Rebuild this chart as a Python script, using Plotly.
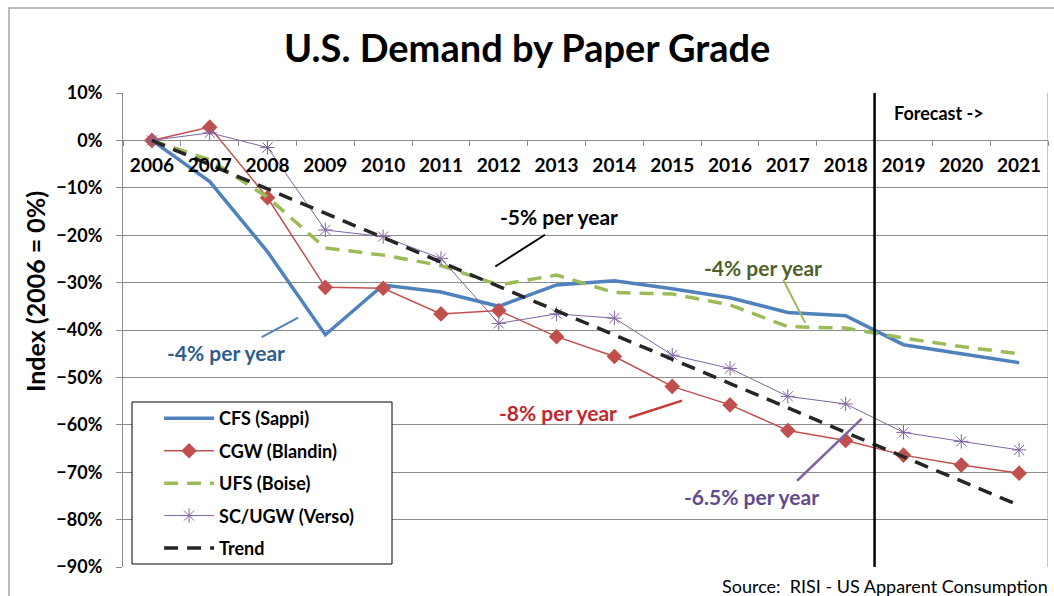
import plotly.graph_objects as go

years = [str(y) for y in range(2006, 2022)]
cfs = [0, -8.7, -23.5, -41.0, -30.5, -32.0, -35.0, -30.5, -29.6, -31.3, -33.2, -36.3, -37.0, -43.1, -45.0, -46.9]
cgw = [0, 2.8, -12.1, -31.0, -31.2, -36.6, -35.9, -41.4, -45.6, -51.9, -55.8, -61.2, -63.3, -66.4, -68.5, -70.2]
ufs = [0, -4.1, -12.0, -22.7, -24.2, -26.4, -30.5, -28.4, -32.1, -32.4, -34.7, -39.3, -39.6, -41.7, -43.5, -45.0]
scugw = [0, 1.6, -1.5, -18.9, -20.3, -24.9, -38.6, -36.6, -37.5, -45.3, -48.1, -54.0, -55.6, -61.6, -63.5, -65.3]
trend = [0, -5.1, -10.3, -15.4, -20.5, -25.7, -30.8, -35.9, -41.0, -46.2, -51.3, -56.4, -61.6, -66.7, -71.8, -77.0]

FONT = "Lato"
fig = go.Figure()

fig.add_trace(go.Scatter(x=years, y=cfs, name="<b>CFS (Sappi)</b>", mode="lines", legendgroup="a", legendrank=1,
                         line=dict(color="#4F81BD", width=3.5)))
fig.add_trace(go.Scatter(x=years, y=cgw, name="<b>CGW (Blandin)</b>", mode="lines+markers", legendgroup="b", legendrank=2,
                         line=dict(color="#C0504D", width=1.5),
                         marker=dict(symbol="diamond", size=12, color="#C0504D")))
fig.add_trace(go.Scatter(x=years, y=ufs, name="<b>UFS (Boise)</b>", mode="lines", legendgroup="c", legendrank=3,
                         line=dict(color="#9BBB59", width=3.5, dash="14px,9px")))
fig.add_trace(go.Scatter(x=years, y=scugw, name="<b>SC/UGW (Verso)</b>", mode="lines+markers", legendgroup="d", legendrank=4,
                         line=dict(color="#8064A2", width=1),
                         marker=dict(symbol="asterisk-open", size=12, color="#8064A2", line=dict(color="#8064A2", width=1))))
fig.add_trace(go.Scatter(x=years, y=trend, name="<b>Trend</b>", mode="lines", legendgroup="e", legendrank=5,
                         line=dict(color="#262626", width=3.5, dash="14px,9px")))

grid = "#8C8C8C"
fig.update_layout(
    width=1054, height=596,
    margin=dict(l=123, r=6, t=93, b=29),
    paper_bgcolor="white", plot_bgcolor="white",
    font=dict(family=FONT, color="black"),
    showlegend=True,
    legend=dict(x=0.039, y=0.352, xanchor="left", yanchor="top",
                bgcolor="rgba(0,0,0,0)", borderwidth=0,
                font=dict(family=FONT, size=18, color="black"),
                tracegroupgap=6, itemwidth=50),
    xaxis=dict(type="category", range=[-0.5, 15.5], anchor="free", position=0.9,
               showgrid=False, showline=False, zeroline=False,
               ticks="outside", ticklen=5, tickcolor=grid, tickson="boundaries",
               ticklabelstandoff=12,
               tickfont=dict(family=FONT, size=19, color="black", weight="bold")),
    yaxis=dict(range=[-90, 10], dtick=10, ticksuffix="%", domain=[0, 1],
               showgrid=True, gridcolor=grid, gridwidth=1, zeroline=False,
               showline=True, linecolor=grid, linewidth=1,
               ticks="outside", ticklen=6, tickcolor=grid, ticklabelstandoff=10,
               tickfont=dict(family=FONT, size=18, color="black", weight="bold")),
)

def px_x(p):
    return (p - 123) / 925.0

def px_y(p):
    return (567 - p) / 474.0

shapes = [
    # plot area right border
    dict(type="line", xref="x", yref="y", x0=15.5, x1=15.5, y0=-90, y1=10, line=dict(color=grid, width=1)),
    # forecast divider
    dict(type="line", xref="x", yref="y", x0=12.5, x1=12.5, y0=-90, y1=10, line=dict(color="black", width=2.5)),
    # outer chart border
    dict(type="rect", xref="paper", yref="paper", x0=px_x(9), x1=1.2, y0=-0.3, y1=px_y(8),
         line=dict(color="#A6A6A6", width=1.5), layer="below"),
    # legend box
    dict(type="rect", xref="paper", yref="paper", x0=px_x(132), x1=px_x(392), y0=px_y(564), y1=px_y(402),
         line=dict(color="black", width=1), fillcolor="white", layer="above"),
    # pointer lines
    dict(type="line", xref="x", yref="y", x0=5.94, y0=-26.6, x1=6.80, y1=-19.9, line=dict(color="black", width=2)),
    dict(type="line", xref="x", yref="y", x0=10.92, y0=-29.4, x1=11.30, y1=-38.5, line=dict(color="#9BBB59", width=2)),
    dict(type="line", xref="x", yref="y", x0=1.90, y0=-41.5, x1=2.53, y1=-37.4, line=dict(color="#4F81BD", width=2)),
    dict(type="line", xref="x", yref="y", x0=8.25, y0=-58.5, x1=9.17, y1=-54.9, line=dict(color="#C83A3A", width=2.5)),
    dict(type="line", xref="x", yref="y", x0=11.16, y0=-71.8, x1=12.28, y1=-58.7, line=dict(color="#8064A2", width=2.5)),
]
fig.update_layout(shapes=shapes)

def note(text, x, y, color, size=21, xanchor="center", xref="x", yref="y"):
    fig.add_annotation(text="<b>" + text + "</b>", x=x, y=y, xref=xref, yref=yref, showarrow=False,
                       xanchor=xanchor, yanchor="middle",
                       font=dict(family=FONT, size=size, color=color))

note("-5% per year", 7.04, -16.1, "black")
note("-4% per year", 10.57, -26.9, "#4F6228")
note("-4% per year", 1.28, -44.8, "#2F5D8C")
note("-8% per year", 7.03, -57.5, "#C0282D")
note("-6.5% per year", 10.37, -75.2, "#5F4B8B")
note("Forecast ->", 12.80, 5.8, "black", size=18, xanchor="left")

fig.add_annotation(text="<b>U.S. Demand by Paper Grade</b>", x=px_x(527), y=px_y(47), xref="paper", yref="paper",
                   showarrow=False, xanchor="center", yanchor="middle",
                   font=dict(family=FONT, size=38, color="black"))
fig.add_annotation(text="<b>Index (2006 = 0%)</b>", x=px_x(35), y=px_y(292), xref="paper", yref="paper",
                   showarrow=False, textangle=-90, xanchor="center", yanchor="middle",
                   font=dict(family=FONT, size=25, color="black"))
fig.add_annotation(text="Source:  RISI - US Apparent Consumption", x=px_x(1050), y=px_y(586), xref="paper", yref="paper",
                   showarrow=False, xanchor="right", yanchor="middle",
                   font=dict(family=FONT, size=18, color="black"))

fig.write_html("out.html", config={"displayModeBar": False},
               post_script="document.body.style.margin='0px';")
